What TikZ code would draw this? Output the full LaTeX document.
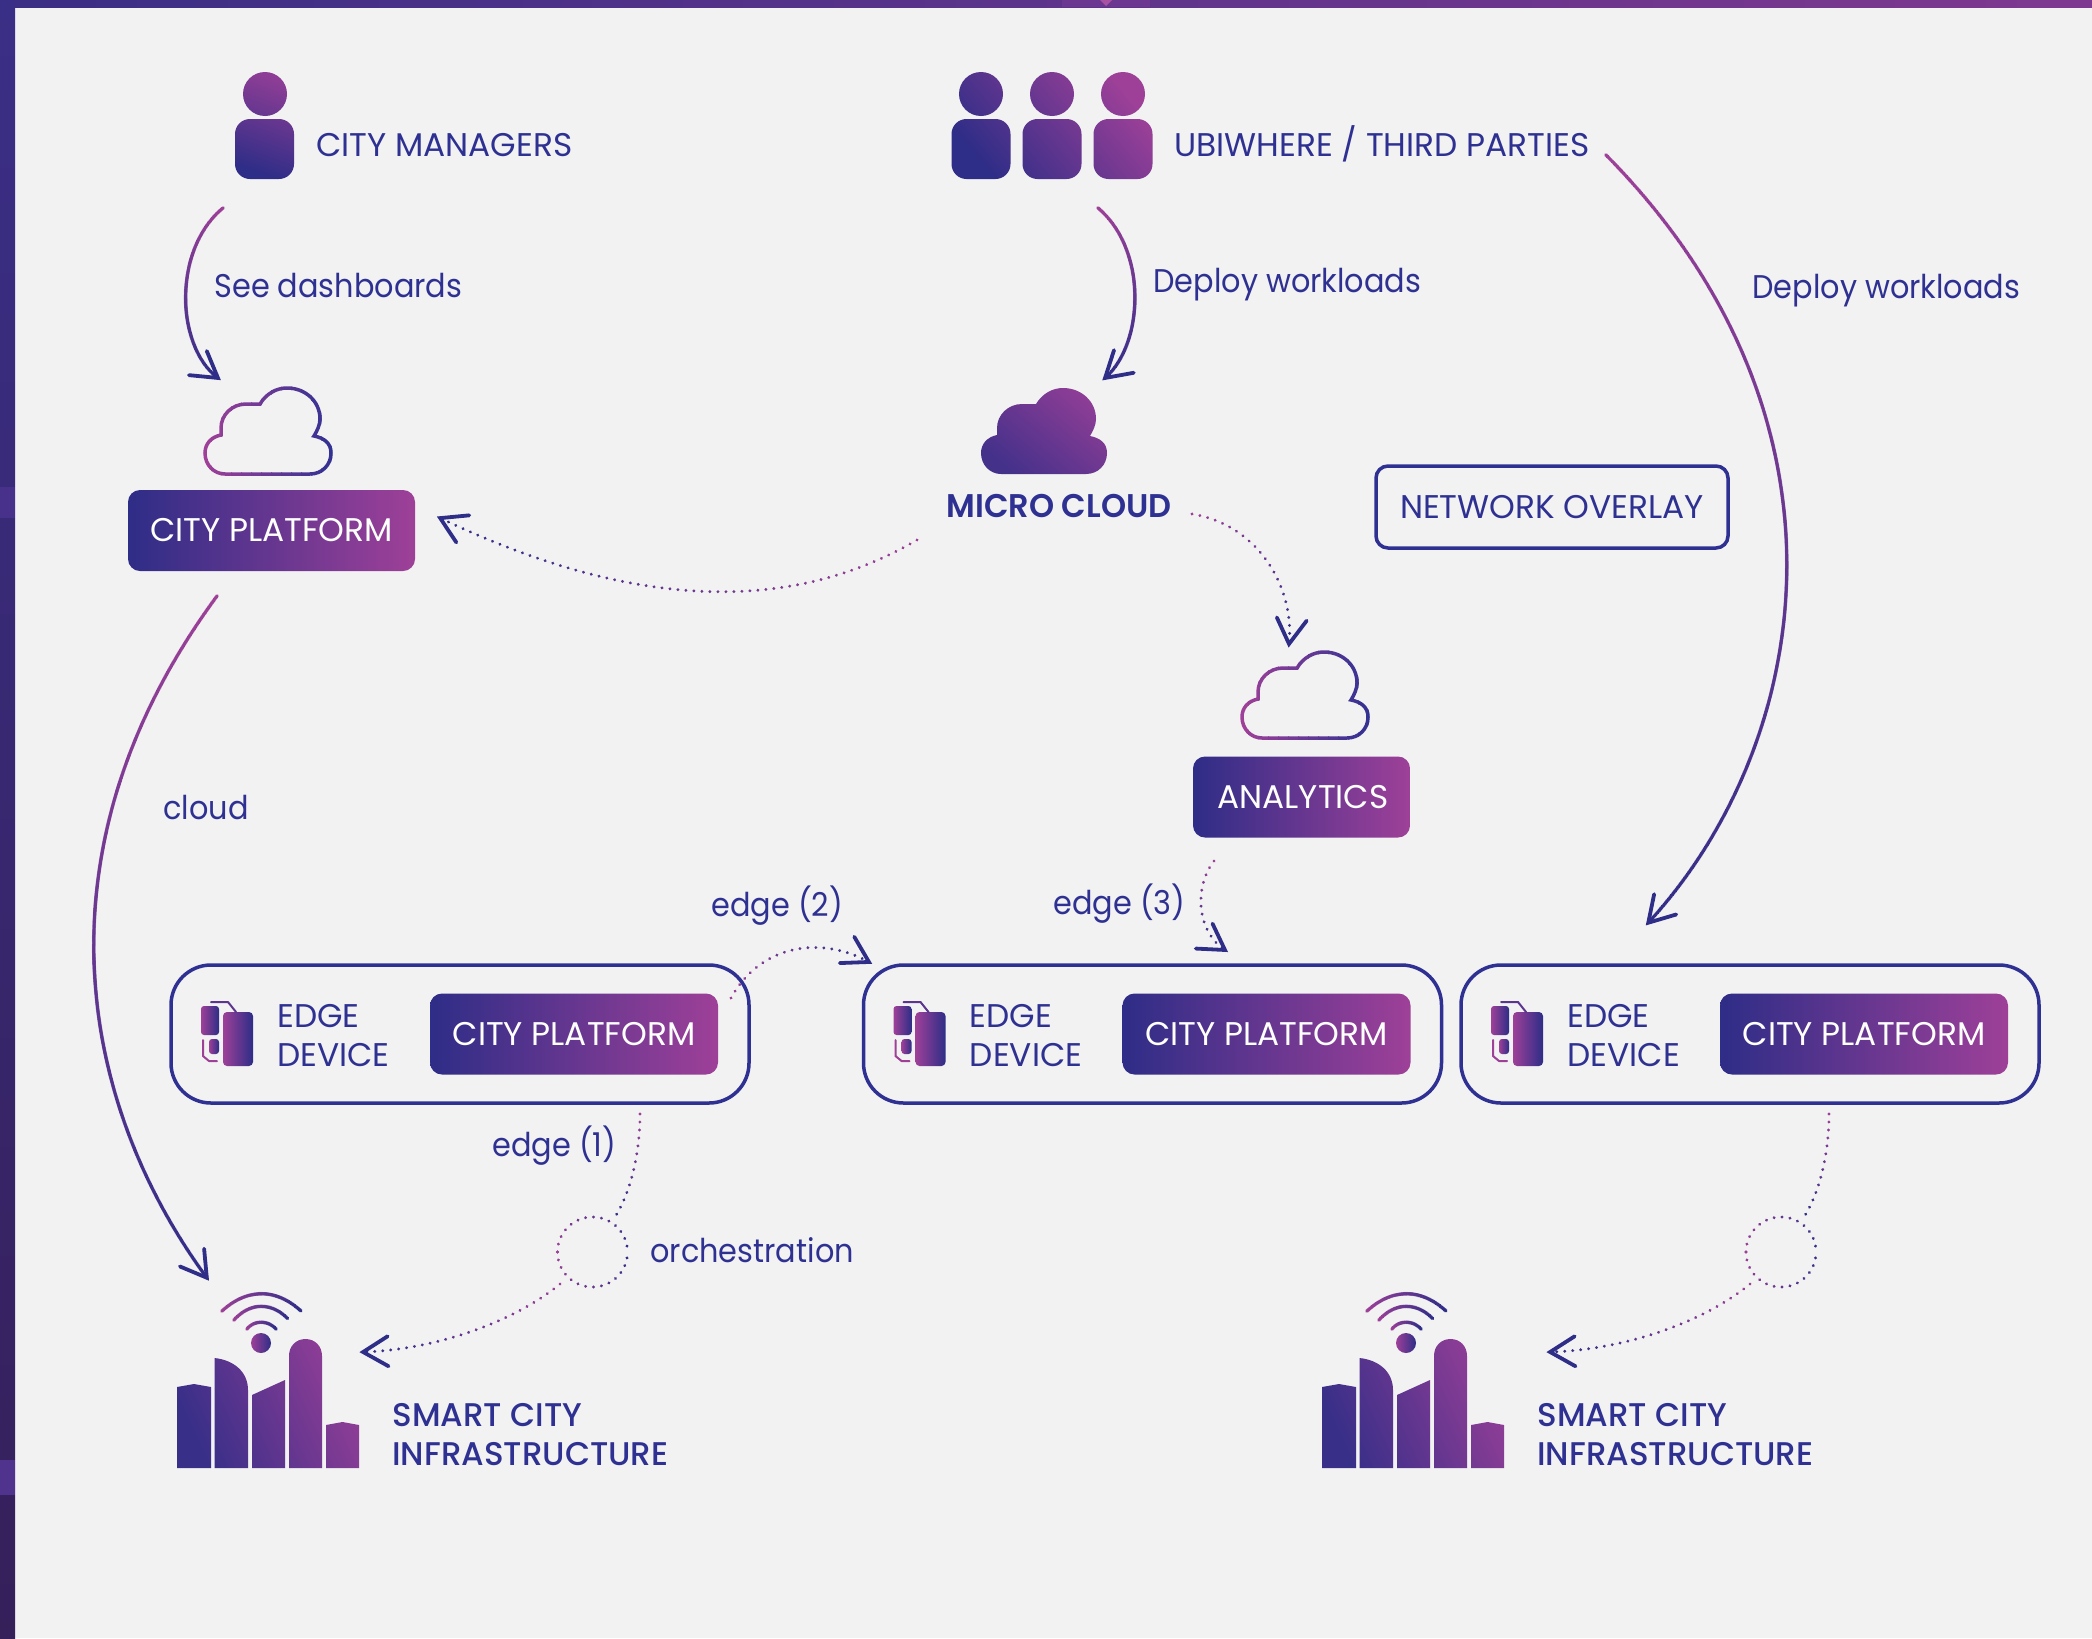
\documentclass[tikz,border=0pt]{standalone}
\usepackage{fontspec}
\setmainfont{Poppins}
\newfontfamily\lowfont{Poppins}[FakeStretch=0.925]
\newfontfamily\medfont{Poppins Medium}[FakeStretch=0.99]
\newfontfamily\semifont{Poppins SemiBold}[FakeStretch=0.975]
\usetikzlibrary{decorations.markings}
\definecolor{ink}{HTML}{2E3192}
\definecolor{blu}{HTML}{2E2D87}
\definecolor{pur}{HTML}{9E4098}
\definecolor{paper}{HTML}{F2F2F2}
\definecolor{topa}{HTML}{3A2E85}
\definecolor{topb}{HTML}{7F3890}
\definecolor{sidea}{HTML}{3A2F86}
\definecolor{sideb}{HTML}{36205A}
\newcommand{\gradmark}[3]{%
  \pgfmathsetmacro{\pctv}{min(100,100*(\pgfkeysvalueof{/pgf/decoration/mark info/distance from start}/\pgfdecoratedpathlength))}%
  \fill[#2!\pctv!#1] (0,0) circle (#3);}
\tikzset{
  solidgrad/.style={postaction={decorate,decoration={markings,
      mark=between positions 0 and 1 step 0.5pt with {\gradmark{pur}{blu}{1.9}}}}},
  dotgrad/.style={postaction={decorate,decoration={markings,
      mark=between positions 0 and 1 step 4pt with {\gradmark{pur}{blu}{1.6}}}}},
  barbed/.style={postaction={decorate,decoration={markings,
      mark=at position 0.9995 with {\draw[blu,line width=1.9pt,line cap=round,line join=miter] (-25,15) -- (0,0) -- (-25,-15);}}}},
  lbl/.style={inner sep=0pt,anchor=west,text=ink,font=\fontsize{16.4}{19.5}\selectfont,align=left},
  lowlbl/.style={lbl,font=\lowfont\fontsize{16.4}{19.5}\selectfont},
  medlbl/.style={lbl,font=\medfont\fontsize{16.4}{19.5}\selectfont},
  semilbl/.style={lbl,font=\semifont\fontsize{16.4}{19.5}\selectfont},
  btn/.style={rounded corners=6pt,left color=blu,right color=pur,text=white,inner sep=0pt,
     minimum height=40.5pt,font=\fontsize{16.4}{19.5}\selectfont},
  framebox/.style={draw=ink,line width=1.75pt,inner sep=0pt,text=ink,font=\fontsize{16.4}{19.5}\selectfont},
  thicktrace/.style={line width=1pt,line cap=round,line join=round},
}
\newcommand{\cloudshape}{(20,86) -- (105,86) .. controls (117,86) and (126,77) .. (126,65)
  .. controls (126,55) and (119,50) .. (109,48) .. controls (112,43) and (115,37) .. (115,31)
  .. controls (115,13) and (100,0) .. (82,0) .. controls (71,0) and (61,6) .. (55,16)
  -- (41,16) .. controls (27,16) and (16,27) .. (16,40) -- (16,47)
  .. controls (6,49) and (0,56) .. (0,65) .. controls (0,77) and (9,86) .. (20,86) -- cycle}
\newcommand{\outlinecloud}[2]{%
  \begin{scope}[shift={(#1,#2)}]
    \foreach \i in {0,...,13}{
      \pgfmathsetmacro{\pv}{\i/13*100}
      \begin{scope}
        \clip (-4+\i*10,-4) rectangle ++(11,96);
        \draw[ink!\pv!pur,line width=1.75pt,line join=miter] \cloudshape;
      \end{scope}
    }
  \end{scope}}
\newcommand{\edgedev}[2]{%
  \begin{scope}[shift={(#2,0)}]
    \node[framebox,rounded corners=20pt,minimum width=289pt,minimum height=69pt] (#1box) at (460,1034) {};
    \shade[left color=pur,right color=blu,rounded corners=1.5pt] (201,1006) rectangle (219,1035);
    \shade[left color=pur,right color=blu,rounded corners=1.5pt] (209,1039) rectangle (219,1054);
    \shade[left color=pur,right color=blu,rounded corners=2pt] (223,1012) rectangle (253,1066);
    \draw[thicktrace,pur!40!blu] (211,1002) -- (228,1002) -- (236,1012);
    \draw[thicktrace,pur] (203,1040) -- (203,1056) -- (209,1061) -- (217,1061);
    \node[lbl] (#1lab) at (277,1036) {EDGE\\DEVICE};
    \node[btn,minimum width=144pt] (#1plat) at (574,1034) {CITY PLATFORM};
  \end{scope}}
\newcommand{\cityicon}[2]{%
  \begin{scope}[shift={(#2,0)}]
    \shade[top color=pur!90!blu,bottom color=blu!92!pur,shading angle=-65]
      (177,1468) -- (177,1387) -- (194,1384) -- (211,1387) -- (211,1468) -- cycle
      (214.5,1468) -- (214.5,1358) .. controls (234,1360) and (248,1372) .. (248,1390) -- (248,1468) -- cycle
      (252,1468) -- (252,1395) -- (285,1380) -- (285,1468) -- cycle
      (289,1468) -- (289,1356) .. controls (289,1346) and (296,1339) .. (305.5,1339) .. controls (315,1339) and (322,1346) .. (322,1356) -- (322,1468) -- cycle
      (326,1468) -- (326,1425) -- (342.5,1422) -- (359,1425) -- (359,1468) -- cycle;
    \shade[left color=pur,right color=blu] (261,1343) circle (10);
    \coordinate (#1wa) at (222,1311); \coordinate (#1wb) at (301,1311);
    \coordinate (#1wc) at (234,1320); \coordinate (#1wd) at (288,1319);
    \coordinate (#1we) at (247,1329); \coordinate (#1wf) at (276,1329);
    \path[solidgrad] (#1wa) .. controls (247,1288) and (276,1288) .. (#1wb);
    \path[solidgrad] (#1wc) .. controls (250,1302) and (272,1302) .. (#1wd);
    \path[solidgrad] (#1we) .. controls (254,1320) and (268,1320) .. (#1wf);
  \end{scope}}
\newcommand{\orchring}[1]{%
  \begin{scope}[shift={(#1)}]
  \path[dotgrad] (-35,0) .. controls (-35,-19.3) and (-19.3,-35) .. (0,-35)
     .. controls (19.3,-35) and (35,-19.3) .. (35,0);
  \path[dotgrad] (-35,0) .. controls (-35,19.3) and (-19.3,35) .. (0,35)
     .. controls (19.3,35) and (35,19.3) .. (35,0);
  \end{scope}}
\begin{document}
\begin{tikzpicture}[x=0.5pt,y=-0.5pt]
\useasboundingbox (0,0) rectangle (2092,1638);
\fill[paper] (0,0) rectangle (2092,1638);
% frame strips
\shade[left color=topa,right color=topb] (0,0) rectangle (2092,7);
\shade[top color=sidea,bottom color=sideb] (0,0) rectangle (15,1638);
\fill[pur!55!blu] (1062,0) rectangle (1150,7);
\fill[pur!90!white] (1100,0) -- (1112,0) -- (1106,6) -- cycle;
\fill[pur!22!blu] (0,487) rectangle (15,518);
\fill[pur!30!blu] (0,1460) rectangle (15,1495);

% persons
\shade[top color=pur!85!blu,bottom color=blu,shading angle=-20,rounded corners=7.5pt]
  (265,94) circle (22) (235,119) rectangle (294,179);
\shade[top color=pur,bottom color=blu,shading angle=-50,rounded corners=7.5pt]
  (981,94) circle (22) (951.5,119) rectangle (1010.5,179)
  (1052,94) circle (22) (1022.5,119) rectangle (1081.5,179)
  (1123,94) circle (22) (1093.5,119) rectangle (1152.5,179);
\node[lbl] (cman) at (316,145) {CITY MANAGERS};
\node[lbl] (ubi) at (1174,144) {UBIWHERE / THIRD PARTIES};

% clouds
\outlinecloud{205}{388}
\outlinecloud{1242}{652}
\begin{scope}[shift={(981,388)}]
  \shade[top color=pur!85!blu,bottom color=blu!80!pur,shading angle=-40] \cloudshape;
\end{scope}

% buttons and labels
\node[btn,minimum width=143.5pt] (cplat) at (271.5,530.5) {CITY PLATFORM};
\node[btn,minimum width=108.5pt] (analytics) at (1301.5,797) {\hspace{1.5pt}ANALYTICS};
\node[framebox,rounded corners=6pt,minimum width=176pt,minimum height=41pt] (overlay) at (1552,507) {NETWORK OVERLAY\hspace{1.5pt}};
\node[semilbl] (micro) at (946,506) {MICRO CLOUD};
\node[lowlbl] (seedash) at (214,286) {See dashboards};
\node[lowlbl] (dep1) at (1153,285) {Deploy workloads};
\node[lowlbl] (dep2) at (1752,291) {Deploy workloads};
\node[lowlbl] (cloudlab) at (163,807) {cloud};
\node[lowlbl] (e2) at (711,906) {edge (2)};
\node[lowlbl] (e3) at (1053,904) {edge (3)};
\node[lowlbl] (e1) at (492,1146) {edge (1)};
\node[lowlbl] (orch) at (650,1250) {orchestration};

% edge devices
\edgedev{da}{0}
\edgedev{db}{692.5}
\edgedev{dc}{1290}

% city icons
\cityicon{ca}{0}
\cityicon{cb}{1145}
\node[medlbl] (sa) at (392,1435) {SMART CITY\\INFRASTRUCTURE};
\node[medlbl] (sb) at (1537,1435) {SMART CITY\\INFRASTRUCTURE};

% connector ends
\coordinate (p1s) at (223,208);  \coordinate (p1e) at (218,378);
\coordinate (p2s) at (1098,208); \coordinate (p2e) at (1105,378);
\coordinate (p3s) at (1606,155); \coordinate (p3e) at (1648,923);
\coordinate (p4s) at (217,596);  \coordinate (p4e) at (207,1278);
\coordinate (p5s) at (917,540);  \coordinate (p5e) at (440,518);
\coordinate (p6s) at (1192,514); \coordinate (p6e) at (1289,644);
\coordinate (p7s) at (1214,861); \coordinate (p7e) at (1225,950);
\coordinate (p8s) at (731,998);  \coordinate (p8e) at (869,962);
\coordinate (p9s) at (640,1114); \coordinate (p9e) at (615,1217);
\coordinate (p10s) at (560,1284); \coordinate (p10e) at (363,1352);
\coordinate (p11s) at (1829,1114); \coordinate (p11e) at (1804,1217);
\coordinate (p12s) at (1750,1284); \coordinate (p12e) at (1550,1352);
\coordinate (ringa) at (592.5,1252);
\coordinate (ringb) at (1781,1252);

% solid connectors
\path[solidgrad,barbed] (p1s) .. controls (172,250) and (176,347) .. (p1e);
\path[solidgrad,barbed] (p2s) .. controls (1148,250) and (1144,344) .. (p2e);
\path[solidgrad,barbed] (p3s) .. controls (1868,420) and (1812,745) .. (p3e);
\path[solidgrad,barbed] (p4s) .. controls (30,850) and (80,1105) .. (p4e);

% dotted connectors
\path[dotgrad,barbed] (p5s) .. controls (780,620) and (618,603) .. (p5e);
\path[dotgrad,barbed] (p6s) .. controls (1260,525) and (1295,590) .. (p6e);
\path[dotgrad,barbed] (p7s) .. controls (1195,885) and (1195,930) .. (p7e);
\path[dotgrad,barbed] (p8s) .. controls (760,945) and (820,935) .. (p8e);
\path[dotgrad] (p9s) .. controls (640,1150) and (632,1190) .. (p9e);
\path[dotgrad,barbed] (p10s) .. controls (510,1325) and (430,1350) .. (p10e);
\path[dotgrad] (p11s) .. controls (1829,1150) and (1821,1190) .. (p11e);
\path[dotgrad,barbed] (p12s) .. controls (1700,1325) and (1620,1350) .. (p12e);
\orchring{ringa}
\orchring{ringb}
\end{tikzpicture}
\end{document}
